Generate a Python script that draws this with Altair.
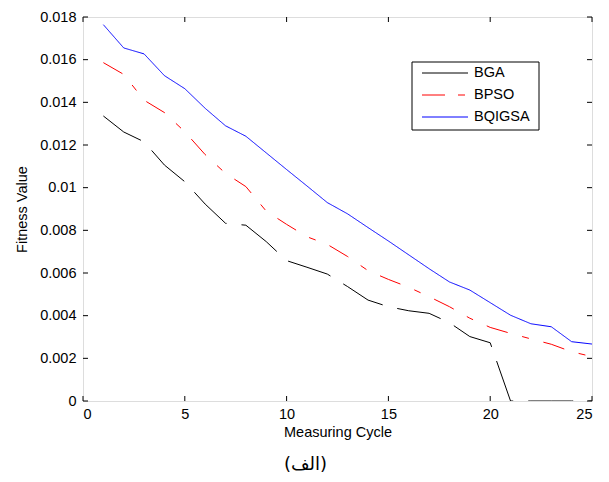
import altair as alt
import pandas as pd

cycles = list(range(1, 26))
bga = [0.01336, 0.01261, 0.01215, 0.01106, 0.01028, 0.00923, 0.00833, 0.00824, 0.00747, 0.00658,
       0.00627, 0.00595, 0.00536, 0.00473, 0.00442, 0.00423, 0.00411, 0.00367, 0.00302, 0.00273,
       0.0, 0.0, 0.0, 0.0, 0.0]
bpso = [0.01586, 0.01531, 0.01410, 0.01352, 0.01262, 0.01155, 0.01067, 0.01005, 0.00890, 0.00828,
        0.00770, 0.00734, 0.00677, 0.00611, 0.00570, 0.00533, 0.00489, 0.00442, 0.00388, 0.00345,
        0.00317, 0.00291, 0.00266, 0.00231, 0.00208]
bqigsa = [0.01764, 0.01655, 0.01627, 0.01525, 0.01464, 0.01372, 0.01290, 0.01241, 0.01163, 0.01085,
          0.01008, 0.00930, 0.00877, 0.00813, 0.00750, 0.00685, 0.00620, 0.00558, 0.00520, 0.00461,
          0.00402, 0.00362, 0.00348, 0.00278, 0.00267]
series_names = ["BGA", "BPSO", "BQIGSA"]
series_colors = ["#000000", "#ff0000", "#0000ff"]
series_dashes = [[45, 15], [22, 15, 7, 15], [1, 0]]
legend_dashes = [[1, 0], [23, 13, 7, 13], [1, 0]]
x_ticks = [0, 5, 10, 15, 20, 25]
y_ticks = [0, 0.002, 0.004, 0.006, 0.008, 0.010, 0.012, 0.014, 0.016, 0.018]

W, H = 509, 384
FONT = "Arial, Liberation Sans, sans-serif"
FS = 14.5

rows = []
for name, vals in zip(series_names, [bga, bpso, bqigsa]):
    for c, v in zip(cycles, vals):
        rows.append({"cycle": c, "value": v, "series": name})
df = pd.DataFrame(rows)

xs = alt.Scale(domain=[0, 25], nice=False, zero=False)
ys = alt.Scale(domain=[0, 0.018], nice=False)

lines = alt.Chart(df).mark_line(strokeWidth=1, clip=True).encode(
    x=alt.X("cycle:Q", scale=xs, title="Measuring Cycle",
            axis=alt.Axis(values=x_ticks, ticks=False, domain=False, grid=False, labelPadding=6,
                          labelFontSize=FS, titleFontSize=FS, titleFontWeight="normal",
                          titlePadding=5, labelColor="black", titleColor="black",
                          labelFont=FONT, titleFont=FONT)),
    y=alt.Y("value:Q", scale=ys, title="Fitness Value",
            axis=alt.Axis(values=y_ticks, ticks=False, domain=False, grid=False, labelPadding=7,
                          labelExpr="format(datum.value, '.3~f')",
                          labelFontSize=FS, titleFontSize=FS, titleFontWeight="normal",
                          titlePadding=10, labelColor="black", titleColor="black",
                          labelFont=FONT, titleFont=FONT)),
    color=alt.Color("series:N", scale=alt.Scale(domain=series_names, range=series_colors),
                    legend=None),
    strokeDash=alt.StrokeDash("series:N", scale=alt.Scale(domain=series_names, range=series_dashes),
                              legend=None),
)

xt = pd.DataFrame({"cycle": x_ticks})
yt = pd.DataFrame({"value": y_ticks})
TL = 5
tick_bottom = alt.Chart(xt).mark_rule(color="black", strokeWidth=1).encode(
    x=alt.X("cycle:Q", scale=xs), y=alt.value(H), y2=alt.value(H - TL))
tick_top = alt.Chart(xt).mark_rule(color="black", strokeWidth=1).encode(
    x=alt.X("cycle:Q", scale=xs), y=alt.value(0), y2=alt.value(TL))
tick_left = alt.Chart(yt).mark_rule(color="black", strokeWidth=1).encode(
    y=alt.Y("value:Q", scale=ys), x=alt.value(0), x2=alt.value(TL))
tick_right = alt.Chart(yt).mark_rule(color="black", strokeWidth=1).encode(
    y=alt.Y("value:Q", scale=ys), x=alt.value(W - TL), x2=alt.value(W))

# legend box (drawn manually, MATLAB style)
LX0, LX1, LY0, LY1 = 329, 456, 45, 113
leg_df = pd.DataFrame({"series": series_names})
box = alt.Chart(leg_df.head(1)).mark_rect(fill="white", stroke="black", strokeWidth=1).encode(
    x=alt.value(LX0), x2=alt.value(LX1), y=alt.value(LY0), y2=alt.value(LY1))
legend_layers = [box]
for i, (name, col, dash) in enumerate(zip(series_names, series_colors, legend_dashes)):
    yc = 56 + i * 22
    sub = leg_df[leg_df["series"] == name]
    legend_layers.append(
        alt.Chart(sub).mark_rule(color=col, strokeWidth=1, strokeDash=dash).encode(
            x=alt.value(339), x2=alt.value(385), y=alt.value(yc)))
    legend_layers.append(
        alt.Chart(sub).mark_text(align="left", baseline="middle", font=FONT, fontSize=FS,
                                 color="black").encode(
            x=alt.value(391), y=alt.value(yc), text="series:N"))

chart = alt.layer(lines, tick_bottom, tick_top, tick_left, tick_right, *legend_layers).properties(
    width=W, height=H,
    title=alt.TitleParams(text="(الف)", orient="bottom", anchor="middle", dx=-32, offset=17,
                          fontSize=18, font="DejaVu Sans", fontWeight="normal", color="black"),
    padding={"left": 75, "top": 9, "right": 9, "bottom": 73},
    autosize=alt.AutoSizeParams(type="none"),
).configure_view(stroke="black", strokeWidth=1.5).configure(background="white")

chart.save("out.html", embed_options={"renderer": "svg", "actions": False})
